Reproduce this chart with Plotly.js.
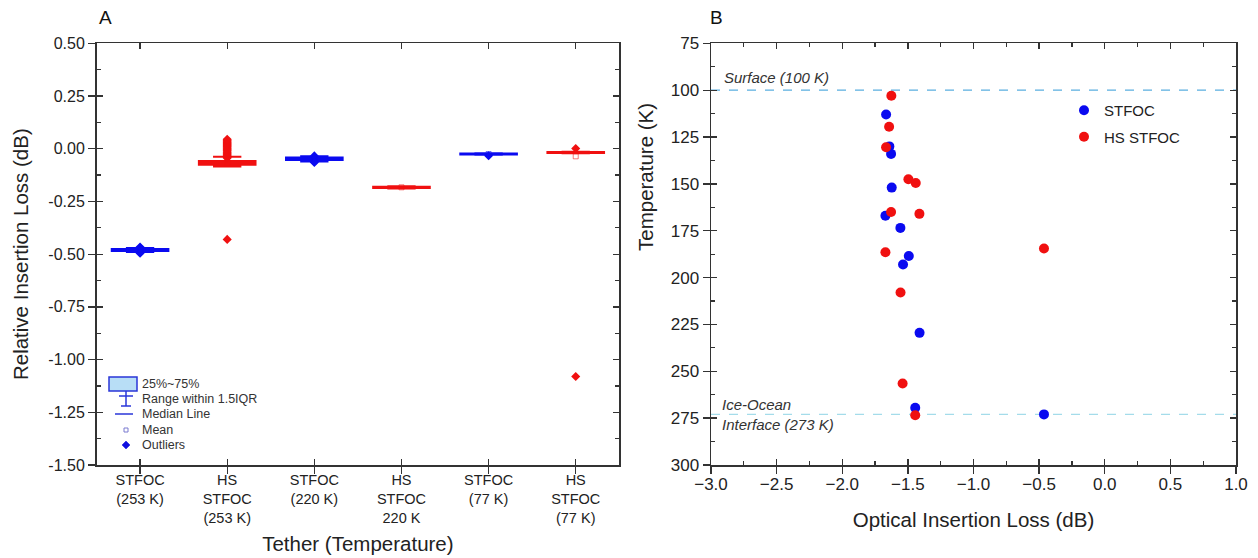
<!DOCTYPE html>
<html>
<head>
<meta charset="utf-8">
<script src="https://cdn.plot.ly/plotly-3.0.1.min.js"></script>
<style>html,body{margin:0;padding:0;background:#fff;}#chart{width:1258px;height:558px;}</style>
</head>
<body>
<div id="chart"></div>
<script>
// ---------- Panel A data (box statistics, dB) ----------
const categories = ["STFOC<br>(253 K)", "HS<br>STFOC<br>(253 K)", "STFOC<br>(220 K)", "HS<br>STFOC<br>220 K", "STFOC<br>(77 K)", "HS<br>STFOC<br>(77 K)"];
const tetherType = ["STFOC", "HS STFOC", "STFOC", "HS STFOC", "STFOC", "HS STFOC"];
const q1 = [-0.485, -0.076, -0.054, -0.186, -0.027, -0.020];
const median = [-0.480, -0.068, -0.048, -0.183, -0.025, -0.018];
const q3 = [-0.476, -0.058, -0.042, -0.180, -0.023, -0.016];
const lowerFence = [-0.490, -0.084, -0.060, -0.189, -0.029, -0.022];
const upperFence = [-0.471, -0.038, -0.036, -0.178, -0.021, -0.014];
const means = [-0.480, -0.064, -0.048, -0.183, -0.025, -0.036];
const outliers = [
  [-0.466, -0.470, -0.492, -0.496],
  [-0.430, -0.044, -0.040, -0.035, -0.030, -0.025, -0.020, -0.015, -0.010, -0.005, 0.000, 0.005, 0.010, 0.015, 0.020, 0.025, 0.030, 0.035, 0.040, 0.045],
  [-0.034, -0.062, -0.065],
  [],
  [-0.033],
  [0.001, -1.080]
];
const yTicksA = [0.5, 0.25, 0, -0.25, -0.5, -0.75, -1.0, -1.25, -1.5];
const yTickTextA = ["0.50", "0.25", "0.00", "-0.25", "-0.50", "-0.75", "-1.00", "-1.25", "-1.50"];

// ---------- Panel B data ----------
const stfocLoss = [-1.666, -1.641, -1.628, -1.623, -1.671, -1.557, -1.493, -1.537, -1.411, -1.444, -0.463];
const stfocTemp = [113, 130, 134, 152, 167, 173.5, 188.5, 193, 229.5, 269.5, 273];
const hsLoss = [-1.626, -1.643, -1.666, -1.496, -1.440, -1.628, -1.412, -1.671, -0.463, -1.556, -1.540, -1.444];
const hsTemp = [103, 119.5, 130.5, 147.5, 149.5, 165, 166, 186.5, 184.5, 208, 256.5, 273.5];
const referenceLevels = [100, 273];
const referenceLabels = ["Surface (100 K)", "Ice-Ocean<br>Interface (273 K)"];

// ---------- styling ----------
const W = 1258, H = 558;
const P = px => px / W, Q = py => 1 - py / H;
const BLUE = "#0a0af0", RED = "#f01010";
const colorOf = t => t === "STFOC" ? BLUE : RED;
const FONT = "Arial, 'Liberation Sans', sans-serif";
const titleFont = {family: FONT, size: 20.5, color: "#222"};
const domAx = [P(96.5), P(619.3)], domBx = [P(711), P(1236)], domY = [Q(465), Q(43.3)];

const traces = [];
categories.forEach((c, i) => {
  const col = colorOf(tetherType[i]);
  traces.push({
    type: "box", x: [i], q1: [q1[i]], median: [median[i]], q3: [q3[i]],
    lowerfence: [lowerFence[i]], upperfence: [upperFence[i]],
    width: 0.65, whiskerwidth: 0.5, boxpoints: false,
    line: {color: col, width: 2}, fillcolor: col,
    xaxis: "x", yaxis: "y", showlegend: false, hoverinfo: "skip"
  });
  traces.push({
    type: "scatter", mode: "markers", x: outliers[i].map(() => i), y: outliers[i],
    marker: {symbol: "diamond", size: 7, color: col},
    xaxis: "x", yaxis: "y", showlegend: false, hoverinfo: "skip"
  });
  traces.push({
    type: "scatter", mode: "markers", x: [i], y: [means[i]],
    marker: {symbol: "square-open", size: 5, color: col, opacity: 0.55, line: {width: 1}},
    xaxis: "x", yaxis: "y", showlegend: false, hoverinfo: "skip"
  });
});
// overlay axes holders
traces.push({type: "scatter", x: [], y: [], xaxis: "x3", yaxis: "y3", showlegend: false});
traces.push({type: "scatter", x: [], y: [], xaxis: "x4", yaxis: "y4", showlegend: false});
// Panel B
traces.push({type: "scatter", mode: "markers", name: "STFOC", x: stfocLoss, y: stfocTemp,
  marker: {size: 10, color: BLUE}, xaxis: "x2", yaxis: "y2", legendgroup: "a"});
traces.push({type: "scatter", mode: "markers", name: "HS STFOC", x: hsLoss, y: hsTemp,
  marker: {size: 10, color: RED}, xaxis: "x2", yaxis: "y2", legendgroup: "b"});

const baseAxis = {showgrid: false, zeroline: false, showline: true, linecolor: "#333", linewidth: 1.5,
  ticks: "outside", ticklen: 7, tickwidth: 1.3, tickcolor: "#333", mirror: true, automargin: false};
const overAxis = {showgrid: false, zeroline: false, showline: false, ticks: "inside", ticklen: 6, tickwidth: 1.3,
  tickcolor: "#333", mirror: "ticks", showticklabels: false, automargin: false};

const layout = {
  width: W, height: H, margin: {l: 0, r: 0, t: 0, b: 0},
  paper_bgcolor: "#fff", plot_bgcolor: "rgba(0,0,0,0)", font: {family: FONT, color: "#222"},
  xaxis: Object.assign({}, baseAxis, {domain: domAx, anchor: "y", range: [-0.5, 5.5],
    tickvals: categories.map((c, i) => i), ticktext: categories, ticklabelstandoff: -6,
    tickfont: {family: FONT, size: 14.5, color: "#222"},
    title: {text: "Tether (Temperature)", font: titleFont, standoff: 12}}),
  yaxis: Object.assign({}, baseAxis, {domain: domY, anchor: "x", range: [-1.5, 0.5],
    tickvals: yTicksA, ticktext: yTickTextA,
    tickfont: {family: FONT, size: 16, color: "#222"},
    title: {text: "Relative Insertion Loss (dB)", font: titleFont, standoff: 14}}),
  xaxis3: Object.assign({}, overAxis, {overlaying: "x", anchor: "y3", range: [-0.5, 5.5], tickvals: categories.map((c, i) => i)}),
  yaxis3: Object.assign({}, overAxis, {overlaying: "y", anchor: "x3", domain: domY, range: [-1.5, 0.5], tick0: 0, dtick: 0.25,
    minor: {ticks: "inside", dtick: 0.125, ticklen: 4, tickcolor: "#333", tickwidth: 1.2}}),
  xaxis2: Object.assign({}, baseAxis, {domain: domBx, anchor: "y2", range: [-3, 1], dtick: 0.5, tick0: 0, tickformat: ".1f",
    ticklabelstandoff: -4, tickfont: {family: FONT, size: 17, color: "#222"},
    title: {text: "Optical Insertion Loss (dB)", font: titleFont, standoff: 19}}),
  yaxis2: Object.assign({}, baseAxis, {domain: domY, anchor: "x2", range: [300, 75], dtick: 25, tick0: 0,
    tickfont: {family: FONT, size: 17, color: "#222"}}),
  xaxis4: Object.assign({}, overAxis, {overlaying: "x2", anchor: "y4", range: [-3, 1], dtick: 0.5, tick0: 0,
    minor: {ticks: "inside", dtick: 0.25, ticklen: 4, tickcolor: "#333", tickwidth: 1.2}}),
  yaxis4: Object.assign({}, overAxis, {overlaying: "y2", anchor: "x4", domain: domY, range: [300, 75], dtick: 25, tick0: 0,
    minor: {ticks: "inside", dtick: 12.5, ticklen: 4, tickcolor: "#333", tickwidth: 1.2}}),
  legend: {x: P(1064), y: Q(94), xanchor: "left", yanchor: "top", bgcolor: "rgba(0,0,0,0)",
    font: {family: FONT, size: 15, color: "#222"}, tracegroupgap: 4, itemwidth: 30},
  shapes: [],
  annotations: []
};

// y-axis title of panel B (placed like the reference, above centre)
layout.annotations.push({xref: "paper", yref: "paper", x: P(646), y: Q(177), xanchor: "center", yanchor: "middle",
  text: "Temperature (K)", textangle: -90, showarrow: false, font: titleFont});

// reference lines in panel B
const refColors = ["#5aaee0", "#a4dcea"];
referenceLevels.forEach((lv, k) => {
  layout.shapes.push({type: "line", xref: "x2 domain", yref: "y2", x0: 0, x1: 1, y0: lv, y1: lv,
    line: {color: refColors[k], width: 1.3, dash: "dash"}, layer: "below"});
});
const italic = {family: FONT, size: 15, color: "#333", style: "italic"};
layout.annotations.push({xref: "x2", yref: "y2", x: -2.92, y: referenceLevels[0], yshift: 2, xanchor: "left", yanchor: "bottom",
  text: referenceLabels[0], showarrow: false, font: italic});
layout.annotations.push({xref: "x2", yref: "y2", x: -2.935, y: referenceLevels[1], xanchor: "left", yanchor: "middle", align: "left",
  text: referenceLabels[1], showarrow: false, font: italic});

// panel letters
layout.annotations.push({xref: "paper", yref: "paper", x: P(97), y: Q(17), xanchor: "left", yanchor: "middle", text: "A",
  showarrow: false, font: {family: FONT, size: 19, color: "#111"}});
layout.annotations.push({xref: "paper", yref: "paper", x: P(708), y: Q(17), xanchor: "left", yanchor: "middle", text: "B",
  showarrow: false, font: {family: FONT, size: 19, color: "#111"}});

// custom legend for panel A
const LB = "#2a36d8";
const pl = (x0, y0, x1, y1, w) => ({type: "line", xref: "paper", yref: "paper", x0: P(x0), y0: Q(y0), x1: P(x1), y1: Q(y1), line: {color: LB, width: w || 1.5}});
layout.shapes.push({type: "rect", xref: "paper", yref: "paper", x0: P(109), x1: P(137), y0: Q(391), y1: Q(377),
  fillcolor: "#b8def6", line: {color: LB, width: 1.5}});
layout.shapes.push(pl(126, 391, 126, 406));
layout.shapes.push(pl(119, 396, 133, 396));
layout.shapes.push(pl(121, 406, 131, 406));
layout.shapes.push(pl(115, 414, 133, 414));
layout.shapes.push({type: "rect", xref: "paper", yref: "paper", x0: P(124), x1: P(128), y0: Q(432), y1: Q(428),
  line: {color: "#7a7ad0", width: 1}, fillcolor: "rgba(0,0,0,0)"});
layout.shapes.push({type: "path", xref: "paper", yref: "paper",
  path: `M ${P(126)} ${Q(441)} L ${P(130)} ${Q(445)} L ${P(126)} ${Q(449)} L ${P(122)} ${Q(445)} Z`,
  fillcolor: "#1010e0", line: {color: "#1010e0", width: 0.5}});
const legA = [["25%~75%", 384], ["Range within 1.5IQR", 399], ["Median Line", 414], ["Mean", 430], ["Outliers", 445]];
legA.forEach(([t, y]) => layout.annotations.push({xref: "paper", yref: "paper", x: P(140), y: Q(y), xanchor: "left", yanchor: "middle",
  text: t, showarrow: false, font: {family: FONT, size: 12.5, color: "#333"}}));

Plotly.newPlot("chart", traces, layout, {displayModeBar: false, staticPlot: true});
</script>
</body>
</html>
